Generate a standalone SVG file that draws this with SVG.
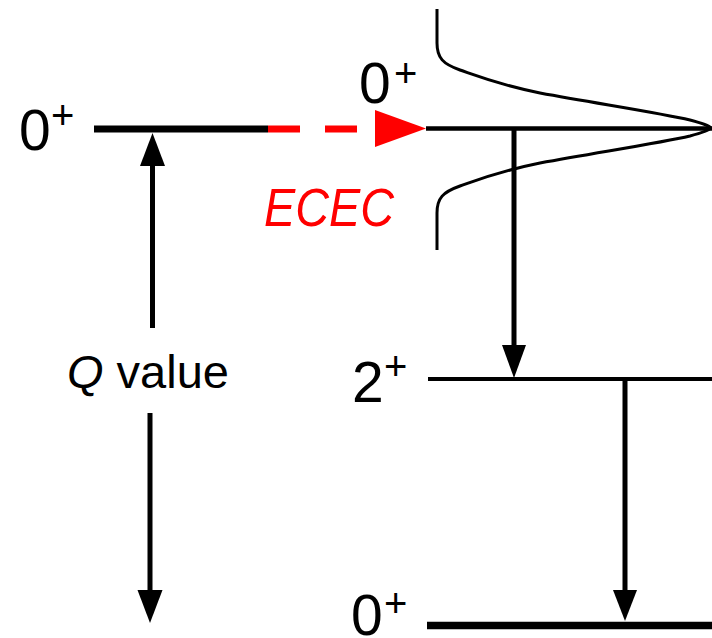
<svg xmlns="http://www.w3.org/2000/svg" width="712" height="638" viewBox="0 0 712 638">
<style>
.lbl{font-family:"Liberation Sans",Arial,sans-serif;fill:#000}
.big{font-size:57px}
.sup{font-size:40px}
.lvl{stroke:#000;fill:none}
.arr{stroke:#000;stroke-width:5;fill:none}
.head{fill:#000;stroke:none}
</style>
<rect width="712" height="638" fill="#fff"/>
<g id="level-initial">
<line class="lvl" x1="94" y1="129" x2="268" y2="129" stroke-width="7"/>
<text class="lbl big" x="19" y="150">0<tspan class="sup" x="51" y="129">+</tspan></text>
</g>
<g id="level-excited0">
<line class="lvl" x1="426" y1="128.5" x2="712" y2="128.5" stroke-width="4.5"/>
<text class="lbl big" x="359" y="103">0<tspan class="sup" x="394" y="87">+</tspan></text>
</g>
<g id="resonance">
<path d="M437,9 L437,43 C437,58 443,64 460,70 C480,77 500,85 540,93 C600,104 660,113 690,120 C705,124 711,127 711,128 C711,129 705,132 690,136 C660,143 600,152 540,163 C500,171 480,179 460,186 C443,192 437,198 437,213 L437,250" fill="none" stroke="#000" stroke-width="3"/>
</g>
<g id="level-2plus">
<line class="lvl" x1="428" y1="379" x2="712" y2="379" stroke-width="4"/>
<text class="lbl big" x="352" y="402">2<tspan class="sup" x="384" y="380">+</tspan></text>
</g>
<g id="level-ground">
<line class="lvl" x1="427" y1="625.5" x2="712" y2="625.5" stroke-width="7.6"/>
<text class="lbl big" x="351" y="635">0<tspan class="sup" x="384" y="617">+</tspan></text>
</g>
<g id="label-q">
<text class="lbl" x="67" y="388" font-size="47"><tspan font-style="italic">Q</tspan> value</text>
</g>
<g id="label-ecec">
<text x="264" y="226" font-family="'Liberation Sans',Arial,sans-serif" font-size="53" font-style="italic" fill="#ff0000" textLength="130" lengthAdjust="spacingAndGlyphs">ECEC</text>
</g>
<g id="connectors">
<line x1="268" y1="129" x2="357" y2="129" stroke="#ff0000" stroke-width="7" stroke-dasharray="32 25"/>
<polygon points="375,110 426,128.5 375,147" fill="#ff0000"/>
<line class="arr" x1="514" y1="130" x2="514" y2="347"/>
<polygon class="head" points="502,345 526,345 514,378"/>
<line class="arr" x1="625" y1="381" x2="625" y2="592"/>
<polygon class="head" points="613,590 637,590 625,621"/>
<line class="arr" x1="152.5" y1="328" x2="152.5" y2="164"/>
<polygon class="head" points="140,166 165,166 152.5,133"/>
<line class="arr" x1="150" y1="413" x2="150" y2="592"/>
<polygon class="head" points="137.5,590 162.5,590 150,623"/>
</g>
</svg>
